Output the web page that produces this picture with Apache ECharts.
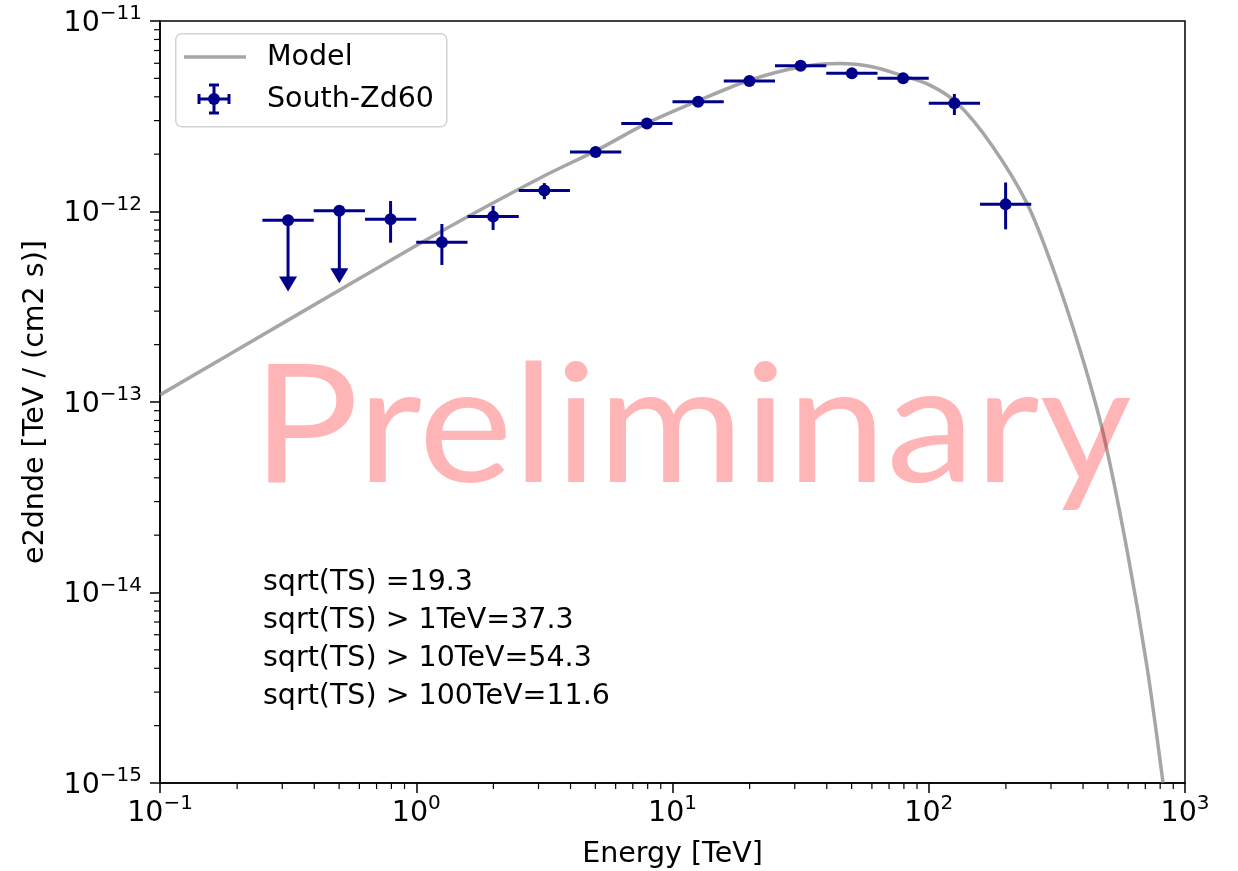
<!DOCTYPE html>
<html>
<head>
<meta charset="utf-8">
<script src="https://cdn.jsdelivr.net/npm/echarts@6/dist/echarts.min.js"></script>
<style>
html, body { margin: 0; padding: 0; background: #fff; }
#chart { width: 1238px; height: 871px; }
</style>
</head>
<body>
<div id="chart"></div>
<script>
// flux points (South-Zd60), energies in TeV, e2dnde in TeV / (cm2 s)
const energy = [0.316, 0.501, 0.794, 1.259, 1.995, 3.162, 5.012, 7.943, 12.59, 19.95, 31.62, 50.12, 79.43, 125.9, 199.5]
const energyLo = [0.251, 0.398, 0.631, 1.0, 1.585, 2.512, 3.981, 6.310, 10.0, 15.85, 25.12, 39.81, 63.10, 100.0, 158.5]
const energyHi = [0.398, 0.631, 1.0, 1.585, 2.512, 3.981, 6.310, 10.0, 15.85, 25.12, 39.81, 63.10, 100.0, 158.5, 251.2]
const flux = [9.0e-13, 1.01e-12, 9.1e-13, 6.9e-13, 9.4e-13, 1.29e-12, 2.05e-12, 2.90e-12, 3.77e-12, 4.84e-12, 5.82e-12, 5.31e-12, 5.00e-12, 3.70e-12, 1.09e-12]
const fluxLo = [3.8e-13, 4.2e-13, 6.86e-13, 5.24e-13, 8.0e-13, 1.16e-12, 1.98e-12, 2.82e-12, 3.68e-12, 4.74e-12, 5.70e-12, 5.20e-12, 4.88e-12, 3.21e-12, 8.06e-13]
const fluxHi = [9.0e-13, 1.01e-12, 1.135e-12, 8.6e-13, 1.07e-12, 1.41e-12, 2.12e-12, 2.98e-12, 3.86e-12, 4.94e-12, 5.94e-12, 5.42e-12, 5.12e-12, 4.14e-12, 1.42e-12]
const upperLimit = [1, 1, 0, 0, 0, 0, 0, 0, 0, 0, 0, 0, 0, 0, 0]

// model curve
const modelE = [0.1, 0.316, 1.0, 1.62, 3.18, 5.08, 7.95, 12.8, 20.1, 31.5, 45.1, 60.1, 77.2, 101, 129, 177, 242, 305, 389, 479, 594, 711, 821]
const modelF = [1.09e-13, 2.69e-13, 6.63e-13, 9.53e-13, 1.545e-12, 2.10e-12, 2.91e-12, 3.85e-12, 4.90e-12, 5.74e-12, 5.98e-12, 5.75e-12, 5.21e-12, 4.61e-12, 3.71e-12, 2.21e-12, 1.10e-12, 5.05e-13, 1.88e-13, 6.88e-14, 1.67e-14, 4.06e-15, 1.0e-15]

const statLines = ['sqrt(TS) =19.3', 'sqrt(TS) > 1TeV=37.3', 'sqrt(TS) > 10TeV=54.3', 'sqrt(TS) > 100TeV=11.6']

const X_MIN = 0.1, X_MAX = 1000, Y_MIN = 1e-15, Y_MAX = 1e-11
const FONT = 'DejaVu Sans'
const FS = 28.5
const NAVY = '#00008b'
const MODEL_COLOR = 'rgba(128,128,128,0.7)'

// minor ticks 2..9 per decade
function minorTicks(lo, hi) {
  const out = []
  for (let d = lo; d < hi; d *= 10) {
    for (let k = 2; k <= 9; k++) out.push(d * k)
  }
  return out
}
const xMinor = minorTicks(X_MIN, X_MAX).map(v => [v, Y_MIN])
const yMinor = minorTicks(Y_MIN, Y_MAX).map(v => [X_MIN, v])

function powLabel(value) {
  const e = Math.round(Math.log10(value))
  return '{b|10}{s|' + String(e).replace('-', '\u2212') + '}'
}
const labelRich = {
  b: { fontFamily: FONT, fontSize: FS, color: '#000', verticalAlign: 'bottom', lineHeight: 34 },
  s: { fontFamily: FONT, fontSize: 20, color: '#000', verticalAlign: 'top', lineHeight: 20 }
}

const pointData = energy.map((e, i) => [e, flux[i], energyLo[i], energyHi[i], fluxLo[i], fluxHi[i], upperLimit[i]])

const chart = echarts.init(document.getElementById('chart'))
chart.setOption({
  backgroundColor: '#fff',
  animation: false,
  grid: {
    left: 160, right: 53, top: 21, bottom: 88,
    outerBoundsMode: 'none',
    show: true, borderColor: '#000', borderWidth: 1.5
  },
  xAxis: {
    type: 'log', logBase: 10, min: X_MIN, max: X_MAX,
    name: 'Energy [TeV]', nameLocation: 'middle', nameGap: 57,
    nameTextStyle: { fontFamily: FONT, fontSize: FS, color: '#000' },
    axisLine: { show: true, lineStyle: { color: '#000', width: 1.5 } },
    axisTick: { show: true, length: 10, lineStyle: { color: '#000', width: 1.5 } },
    axisLabel: { margin: 11, formatter: powLabel, rich: labelRich },
    splitLine: { show: false }
  },
  yAxis: {
    type: 'log', logBase: 10, min: Y_MIN, max: Y_MAX,
    name: 'e2dnde [TeV / (cm2 s)]', nameLocation: 'middle', nameGap: 110,
    nameTextStyle: { fontFamily: FONT, fontSize: FS, color: '#000' },
    axisLine: { show: true, lineStyle: { color: '#000', width: 1.5 } },
    axisTick: { show: true, length: 10, lineStyle: { color: '#000', width: 1.5 } },
    axisLabel: { margin: 18, formatter: powLabel, rich: labelRich },
    splitLine: { show: false }
  },
  series: [
    {
      name: 'Model',
      type: 'line',
      data: modelE.map((e, i) => [e, modelF[i]]),
      showSymbol: false,
      smooth: 0.3,
      lineStyle: { color: MODEL_COLOR, width: 3.5 },
      z: 2
    },
    {
      name: 'South-Zd60 errors',
      type: 'custom',
      data: pointData,
      encode: { x: 0, y: 1 },
      z: 3,
      renderItem: function (params, api) {
        const c = api.coord([api.value(0), api.value(1)])
        const l = api.coord([api.value(2), api.value(1)])
        const r = api.coord([api.value(3), api.value(1)])
        const lo = api.coord([api.value(0), api.value(4)])
        const hi = api.coord([api.value(0), api.value(5)])
        const st = { stroke: NAVY, lineWidth: 3 }
        const children = [
          { type: 'line', shape: { x1: l[0], y1: l[1], x2: r[0], y2: r[1] }, style: st }
        ]
        if (api.value(6)) {
          children.push({ type: 'line', shape: { x1: c[0], y1: c[1], x2: lo[0], y2: lo[1] - 12 }, style: st })
          children.push({
            type: 'polygon',
            shape: { points: [[lo[0] - 9, lo[1] - 15], [lo[0] + 9, lo[1] - 15], [lo[0], lo[1]]] },
            style: { fill: NAVY }
          })
        } else {
          children.push({ type: 'line', shape: { x1: hi[0], y1: hi[1], x2: lo[0], y2: lo[1] }, style: st })
        }
        return { type: 'group', children: children }
      }
    },
    {
      name: 'South-Zd60',
      type: 'scatter',
      data: energy.map((e, i) => [e, flux[i]]),
      symbol: 'circle',
      symbolSize: 12,
      itemStyle: { color: NAVY, opacity: 1 },
      z: 4
    },
    {
      name: 'x minor ticks',
      type: 'custom',
      data: xMinor,
      encode: { x: 0, y: 1 },
      clip: false,
      silent: true,
      renderItem: function (params, api) {
        const p = api.coord([api.value(0), api.value(1)])
        return { type: 'line', shape: { x1: p[0], y1: p[1], x2: p[0], y2: p[1] + 6 }, style: { stroke: '#000', lineWidth: 1.2 } }
      }
    },
    {
      name: 'y minor ticks',
      type: 'custom',
      data: yMinor,
      encode: { x: 0, y: 1 },
      clip: false,
      silent: true,
      renderItem: function (params, api) {
        const p = api.coord([api.value(0), api.value(1)])
        return { type: 'line', shape: { x1: p[0], y1: p[1], x2: p[0] - 6, y2: p[1] }, style: { stroke: '#000', lineWidth: 1.2 } }
      }
    }
  ],
  graphic: [
    // legend box
    {
      type: 'rect', left: 175, top: 33, z: 10,
      shape: { width: 271, height: 93, r: 6 },
      style: { fill: 'rgba(255,255,255,0.8)', stroke: '#d3d3d3', lineWidth: 1.5 }
    },
    {
      type: 'line', z: 11,
      shape: { x1: 184, y1: 57, x2: 246, y2: 57 },
      style: { stroke: MODEL_COLOR, lineWidth: 3.5 }
    },
    { type: 'line', z: 11, shape: { x1: 199, y1: 99, x2: 229, y2: 99 }, style: { stroke: NAVY, lineWidth: 3 } },
    { type: 'line', z: 11, shape: { x1: 199, y1: 94, x2: 199, y2: 104 }, style: { stroke: NAVY, lineWidth: 3 } },
    { type: 'line', z: 11, shape: { x1: 229, y1: 94, x2: 229, y2: 104 }, style: { stroke: NAVY, lineWidth: 3 } },
    { type: 'line', z: 11, shape: { x1: 214, y1: 85, x2: 214, y2: 113 }, style: { stroke: NAVY, lineWidth: 3 } },
    { type: 'line', z: 11, shape: { x1: 209, y1: 85, x2: 219, y2: 85 }, style: { stroke: NAVY, lineWidth: 3 } },
    { type: 'line', z: 11, shape: { x1: 209, y1: 113, x2: 219, y2: 113 }, style: { stroke: NAVY, lineWidth: 3 } },
    { type: 'circle', z: 11, shape: { cx: 214, cy: 99, r: 6 }, style: { fill: NAVY } },
    {
      type: 'text', left: 267, top: 43, z: 11,
      style: { text: 'Model', fontFamily: FONT, fontSize: FS, fill: '#000' }
    },
    {
      type: 'text', left: 267, top: 85, z: 11,
      style: { text: 'South-Zd60', fontFamily: FONT, fontSize: FS, fill: '#000' }
    },
    // significance notes
    {
      type: 'text', left: 263, top: 563, z: 11,
      style: { text: statLines.join('\n'), fontFamily: FONT, fontSize: FS, lineHeight: 38.3, fill: '#000' }
    },
    // watermark
    {
      type: 'text', left: 252, top: 346, z: 20, scaleX: 1.08,
      style: { text: 'Preliminary', fontFamily: 'Lato', fontSize: 165, fill: 'rgba(255,0,0,0.29)' }
    }
  ]
})
</script>
</body>
</html>
